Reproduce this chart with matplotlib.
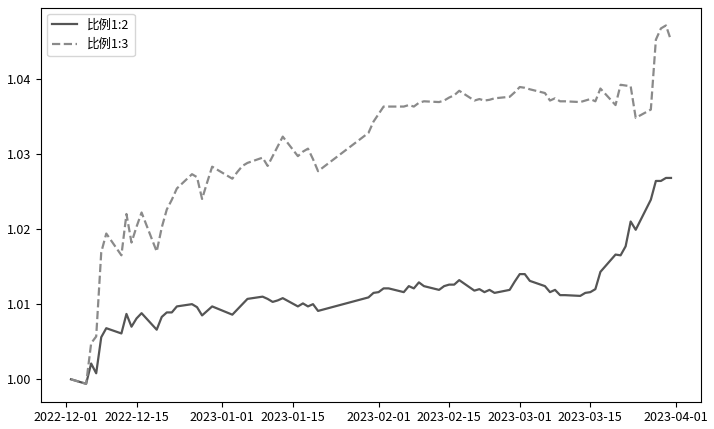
#!/usr/bin/env python3

import matplotlib
matplotlib.use("Agg")
import matplotlib.pyplot as plt
import matplotlib.dates as mdates
import matplotlib.ticker as mticker
import pandas as pd

plt.rcParams['font.family'] = ['Noto Sans CJK SC', 'DejaVu Sans']
plt.rcParams['axes.unicode_minus'] = False

dates = [
    "2022-12-02", "2022-12-05", "2022-12-06", "2022-12-07", "2022-12-08", "2022-12-09",
    "2022-12-12", "2022-12-13", "2022-12-14", "2022-12-15", "2022-12-16",
    "2022-12-19", "2022-12-20", "2022-12-21", "2022-12-22", "2022-12-23",
    "2022-12-26", "2022-12-27", "2022-12-28", "2022-12-29", "2022-12-30",
    "2023-01-03", "2023-01-04", "2023-01-05", "2023-01-06",
    "2023-01-09", "2023-01-10", "2023-01-11", "2023-01-12", "2023-01-13",
    "2023-01-16", "2023-01-17", "2023-01-18", "2023-01-19", "2023-01-20",
    "2023-01-30", "2023-01-31", "2023-02-01", "2023-02-02", "2023-02-03",
    "2023-02-06", "2023-02-07", "2023-02-08", "2023-02-09", "2023-02-10",
    "2023-02-13", "2023-02-14", "2023-02-15", "2023-02-16", "2023-02-17",
    "2023-02-20", "2023-02-21", "2023-02-22", "2023-02-23", "2023-02-24",
    "2023-02-27", "2023-02-28", "2023-03-01", "2023-03-02", "2023-03-03",
    "2023-03-06", "2023-03-07", "2023-03-08", "2023-03-09", "2023-03-10",
    "2023-03-13", "2023-03-14", "2023-03-15", "2023-03-16", "2023-03-17",
    "2023-03-20", "2023-03-21", "2023-03-22", "2023-03-23", "2023-03-24",
    "2023-03-27", "2023-03-28", "2023-03-29", "2023-03-30", "2023-03-31",
]

# 比例1:2
ratio12 = [
    1.0000, 0.9994, 1.0021, 1.0008, 1.0056, 1.0068,
    1.0061, 1.0087, 1.0070, 1.0081, 1.0088,
    1.0066, 1.0083, 1.0089, 1.0089, 1.0097,
    1.0100, 1.0096, 1.0085, 1.0091, 1.0097,
    1.0086, 1.0093, 1.0100, 1.0107,
    1.0110, 1.0107, 1.0103, 1.0105, 1.0108,
    1.0097, 1.0101, 1.0097, 1.0100, 1.0091,
    1.0109, 1.0115, 1.0116, 1.0121, 1.0121,
    1.0116, 1.0124, 1.0121, 1.0129, 1.0124,
    1.0119, 1.0124, 1.0126, 1.0126, 1.0132,
    1.0118, 1.0120, 1.0116, 1.0119, 1.0115,
    1.0119, 1.0130, 1.0140, 1.0140, 1.0131,
    1.0124, 1.0116, 1.0119, 1.0112, 1.0112,
    1.0111, 1.0115, 1.0116, 1.0120, 1.0143,
    1.0166, 1.0165, 1.0177, 1.0210, 1.0199,
    1.0239, 1.0264, 1.0264, 1.0268, 1.0268,
]

# 比例1:3
ratio13 = [
    1.0000, 0.9994, 1.0048, 1.0057, 1.0169, 1.0194,
    1.0165, 1.0220, 1.0182, 1.0203, 1.0222,
    1.0170, 1.0202, 1.0226, 1.0239, 1.0254,
    1.0273, 1.0269, 1.0240, 1.0262, 1.0283,
    1.0267, 1.0276, 1.0284, 1.0288,
    1.0295, 1.0284, 1.0297, 1.0310, 1.0323,
    1.0297, 1.0303, 1.0307, 1.0293, 1.0277,
    1.0328, 1.0343, 1.0353, 1.0363, 1.0363,
    1.0363, 1.0365, 1.0363, 1.0368, 1.0370,
    1.0369, 1.0371, 1.0375, 1.0378, 1.0384,
    1.0371, 1.0373, 1.0371, 1.0372, 1.0374,
    1.0376, 1.0382, 1.0389, 1.0388, 1.0386,
    1.0381, 1.0371, 1.0374, 1.0370, 1.0370,
    1.0369, 1.0371, 1.0373, 1.0370, 1.0387,
    1.0365, 1.0392, 1.0391, 1.0390, 1.0348,
    1.0359, 1.0452, 1.0467, 1.0471, 1.0451,
]

x = pd.to_datetime(dates)

fig = plt.figure(figsize=(7.14, 4.29), dpi=100)
ax = fig.add_axes([0.0574, 0.0636, 0.9244, 0.9189])

ax.plot(x, ratio12, color="#555555", linewidth=1.6, label="比例1:2")
ax.plot(x, ratio13, color="#8a8a8a", linewidth=1.6, linestyle="--", label="比例1:3")

ax.xaxis.set_major_locator(mdates.DayLocator(bymonthday=[1, 15]))
ax.xaxis.set_major_formatter(mdates.DateFormatter("%Y-%m-%d"))
ax.yaxis.set_major_locator(mticker.MultipleLocator(0.01))
ax.yaxis.set_major_formatter(mticker.FormatStrFormatter("%.2f"))
ax.tick_params(labelsize=9)

ax.legend(loc="upper left", fontsize=9)

fig.savefig("out.png", dpi=100)
